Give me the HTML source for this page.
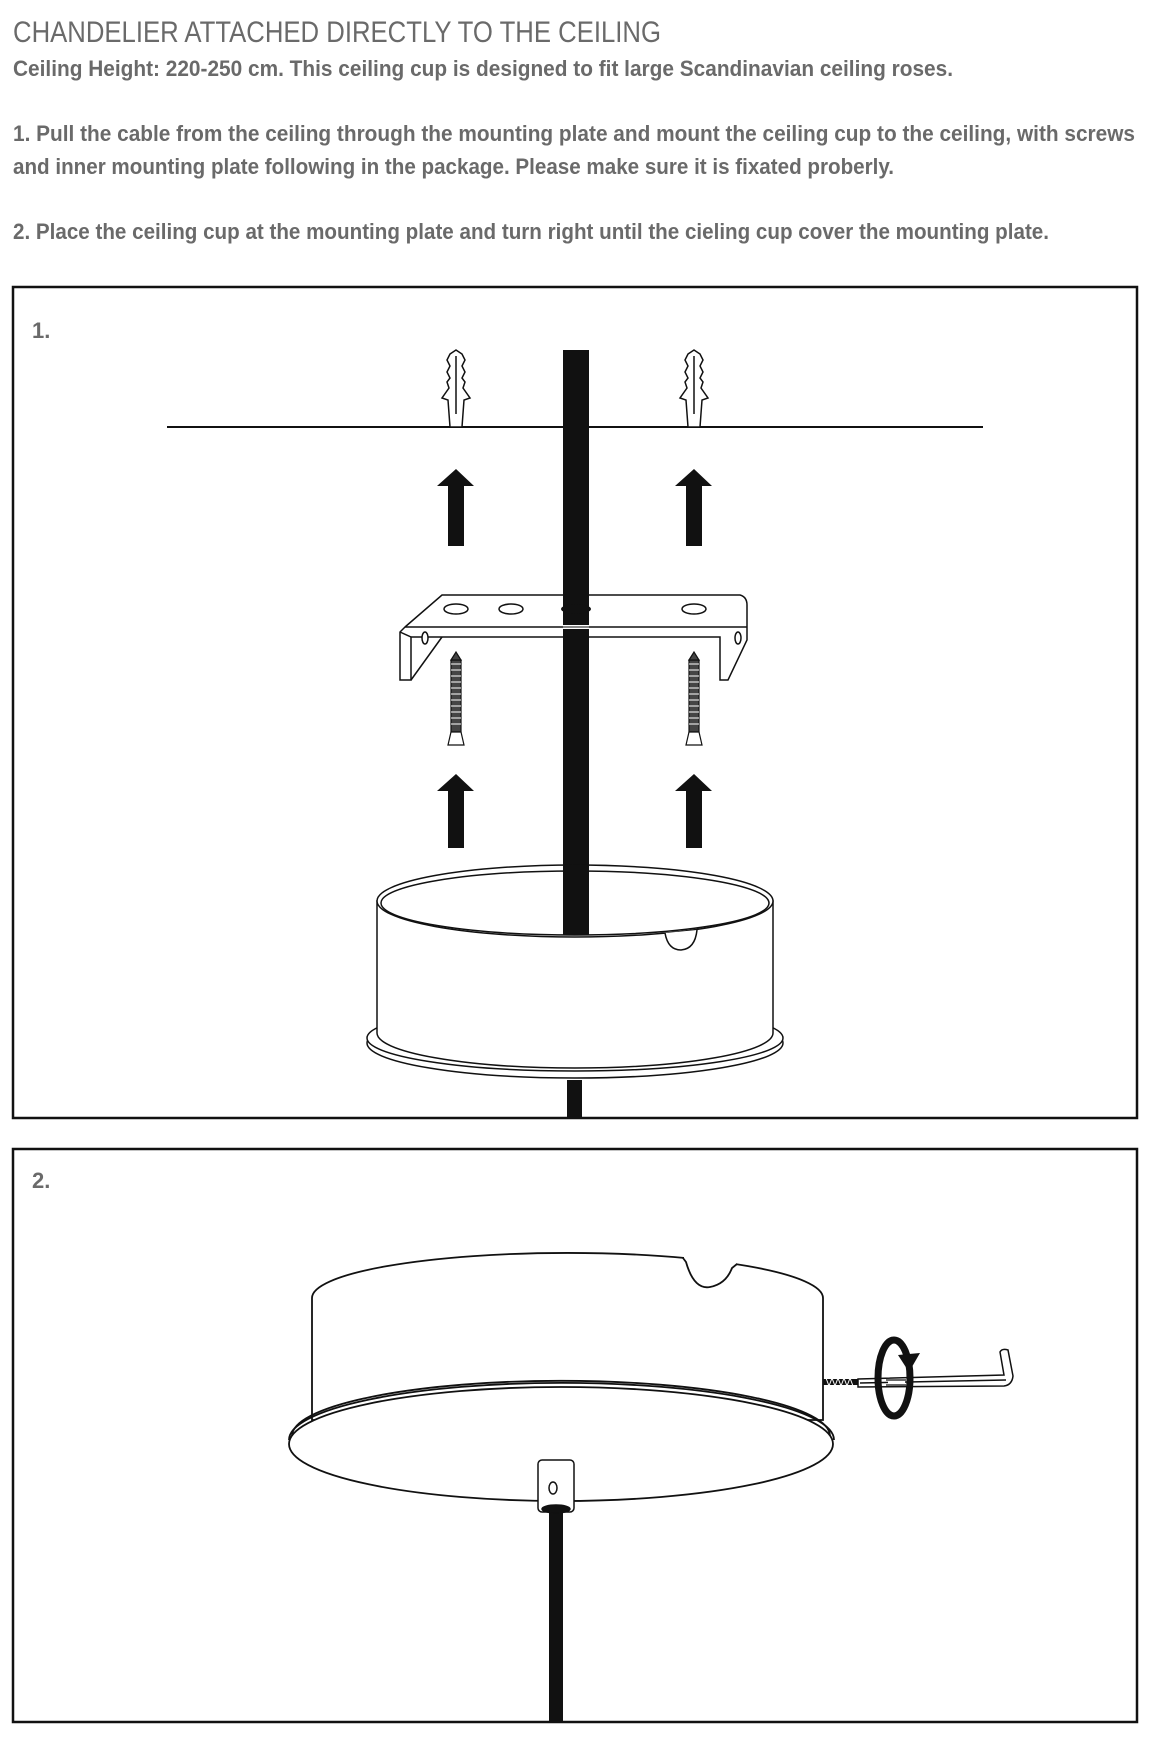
<!DOCTYPE html>
<html><head><meta charset="utf-8"><style>html,body{margin:0;padding:0;background:#fff}svg{display:block}</style></head>
<body>
<svg width="1150" height="1744" viewBox="0 0 1150 1744" xmlns="http://www.w3.org/2000/svg" font-family="Liberation Sans, sans-serif">
<g fill="#6a6a6a">
<text x="13" y="42" font-size="30" textLength="648" lengthAdjust="spacingAndGlyphs">CHANDELIER ATTACHED DIRECTLY TO THE CEILING</text>
<text x="13" y="76" font-size="22" font-weight="bold" textLength="940" lengthAdjust="spacingAndGlyphs">Ceiling Height:  220-250 cm. This ceiling cup is designed to fit large Scandinavian ceiling roses.</text>
<text x="13" y="141" font-size="22" font-weight="bold" textLength="1122" lengthAdjust="spacingAndGlyphs">1. Pull the cable from the ceiling through the mounting plate and mount the ceiling cup to the ceiling, with screws</text>
<text x="13" y="174" font-size="22" font-weight="bold" textLength="881" lengthAdjust="spacingAndGlyphs">and inner mounting plate following in the package. Please make sure it is fixated proberly.</text>
<text x="13" y="239" font-size="22" font-weight="bold" textLength="1036" lengthAdjust="spacingAndGlyphs">2. Place the ceiling cup at the mounting plate and turn right until the cieling cup cover the mounting plate.</text>
<text x="32" y="338" font-size="22" font-weight="bold">1.</text>
<text x="32" y="1188" font-size="22" font-weight="bold">2.</text>
</g>
<rect x="13" y="287" width="1124" height="831" fill="none" stroke="#111" stroke-width="2.5"/>
<rect x="13" y="1149" width="1124" height="573" fill="none" stroke="#111" stroke-width="2.5"/>

<!-- Panel 1 -->
<line x1="167" y1="427" x2="983" y2="427" stroke="#111" stroke-width="2"/>
<g fill="#fff" stroke="#111" stroke-width="1.5">
<g id="anc">
<path d="M450,427 L448,400 L442,398 L449,388 L447,382 L450,378 L447,372 L450,366 L447,360 L450,354 L456,350 L462,354 L465,360 L462,366 L465,372 L462,378 L465,382 L463,388 L470,398 L464,400 L462,427 Z"/>
<line x1="456" y1="356" x2="456" y2="414"/>
</g>
<use href="#anc" transform="translate(238,0)"/>
</g>
<g fill="#111">
<path d="M448,546 V486 H437 L456,469 L474,486 H464 V546 Z"/>
<path d="M686,546 V486 H675 L694,469 L712,486 H702 V546 Z"/>
<path d="M448,848 V791 H437 L456,774 L474,791 H464 V848 Z"/>
<path d="M686,848 V791 H675 L694,774 L712,791 H702 V848 Z"/>
</g>
<g fill="#fff" stroke="#111" stroke-width="1.5">
<path d="M405,627 L442,595 L740,595 Q747,597 747,605 L747,640 L728,680 L720,680 L720,637 L411,637 L411,680 L400,680 L400,632 Z"/>
<line x1="405" y1="627" x2="747" y2="627"/>
<line x1="411" y1="637" x2="400" y2="632"/>
<path d="M411,680 L442,637"/>
<ellipse cx="456" cy="609" rx="12" ry="5"/>
<ellipse cx="511" cy="609" rx="12" ry="5"/>
<ellipse cx="694" cy="609" rx="12" ry="5"/>
<ellipse cx="425" cy="638" rx="3" ry="6"/>
<ellipse cx="738" cy="638" rx="3" ry="6"/>
</g>
<rect x="563" y="350" width="26" height="590" fill="#111"/>
<ellipse cx="576" cy="609" rx="15" ry="5" fill="#111"/>
<line x1="563" y1="627" x2="589" y2="627" stroke="#fff" stroke-width="4"/>
<line x1="563" y1="627" x2="589" y2="627" stroke="#111" stroke-width="1"/>
<g stroke="#111" fill="#fff" stroke-width="1.2">
<g id="scr">
<rect x="451" y="660" width="10" height="72" fill="#444"/>
<path d="M451,664 h10 M451,670 h10 M451,676 h10 M451,682 h10 M451,688 h10 M451,694 h10 M451,700 h10 M451,706 h10 M451,712 h10 M451,718 h10 M451,724 h10" stroke="#fff" stroke-width="1"/>
<path d="M451,660 L456,652 L461,660 Z" fill="#444"/>
<path d="M448,745 L464,745 L461,732 L451,732 Z"/>
</g>
<use href="#scr" transform="translate(238,0)"/>
</g>
<g fill="#fff" stroke="#111" stroke-width="1.5">
<ellipse cx="575" cy="1043" rx="208" ry="35"/>
<ellipse cx="575" cy="1038" rx="208" ry="33"/>
<path d="M377,901 L377,1033 A198 35 0 0 0 773 1033 L773,901 Z"/>
<ellipse cx="575" cy="901" rx="198" ry="36"/>
<ellipse cx="575" cy="903" rx="194" ry="32"/>
</g>
<rect x="563" y="865" width="26" height="70" fill="#111"/>
<path d="M665,933 Q668,950 681,950 Q695,949 697,930" fill="#fff" stroke="#111" stroke-width="1.5"/>
<rect x="567" y="1080" width="15" height="38" fill="#111"/>

<!-- Panel 2 -->
<g fill="#fff" stroke="#111" stroke-width="1.8">
<path d="M312,1298 A255 45 0 0 1 823 1298 L823,1420 L312,1420 Z"/>
<ellipse cx="561" cy="1444" rx="272" ry="57"/>
<path d="M289,1440 A272 57 0 0 1 834 1440" fill="none"/>
<path d="M292,1436 A268 55 0 0 1 830 1436" fill="none"/>
</g>
<path d="M684,1252 L736,1252 L736,1275 L684,1275 Z" fill="#fff"/>
<path d="M683,1258 L686,1262 Q694,1290 710,1287 Q726,1284 732,1268 L737,1264" fill="none" stroke="#111" stroke-width="1.8"/>
<rect x="549" y="1505" width="14" height="218" fill="#111"/>
<g fill="#fff" stroke="#111" stroke-width="1.5">
<rect x="538" y="1460" width="36" height="52" rx="4"/>
<ellipse cx="553" cy="1488" rx="4" ry="6"/>
<ellipse cx="556" cy="1509" rx="14" ry="4" fill="#111"/>
</g>
<g stroke="#111" stroke-width="1.5">
<line x1="823" y1="1382" x2="858" y2="1382" stroke-width="6"/>
<path d="M826,1378 l3,8 l3,-8 l3,8 l3,-8 l3,8 l3,-8 l3,8 l3,-8 l3,8" fill="none" stroke="#fff" stroke-width="1"/>
<path d="M858,1379 L1004,1375 L1000,1352 Q1002,1348 1008,1350 L1013,1376 Q1012,1385 1004,1386 L858,1387 Z" fill="#fff"/>
<line x1="860" y1="1383" x2="1006" y2="1380"/>
</g>
<ellipse cx="894" cy="1378" rx="16" ry="38" fill="none" stroke="#111" stroke-width="7"/>
<path d="M898,1355 L920,1353 L909,1372 Z" fill="#111"/>
<line x1="888" y1="1382" x2="905" y2="1382" stroke="#fff" stroke-width="5"/>
<line x1="886" y1="1380" x2="906" y2="1380" stroke="#111" stroke-width="1.2"/>
<line x1="886" y1="1385" x2="906" y2="1385" stroke="#111" stroke-width="1.2"/>
</svg>
</body></html>
